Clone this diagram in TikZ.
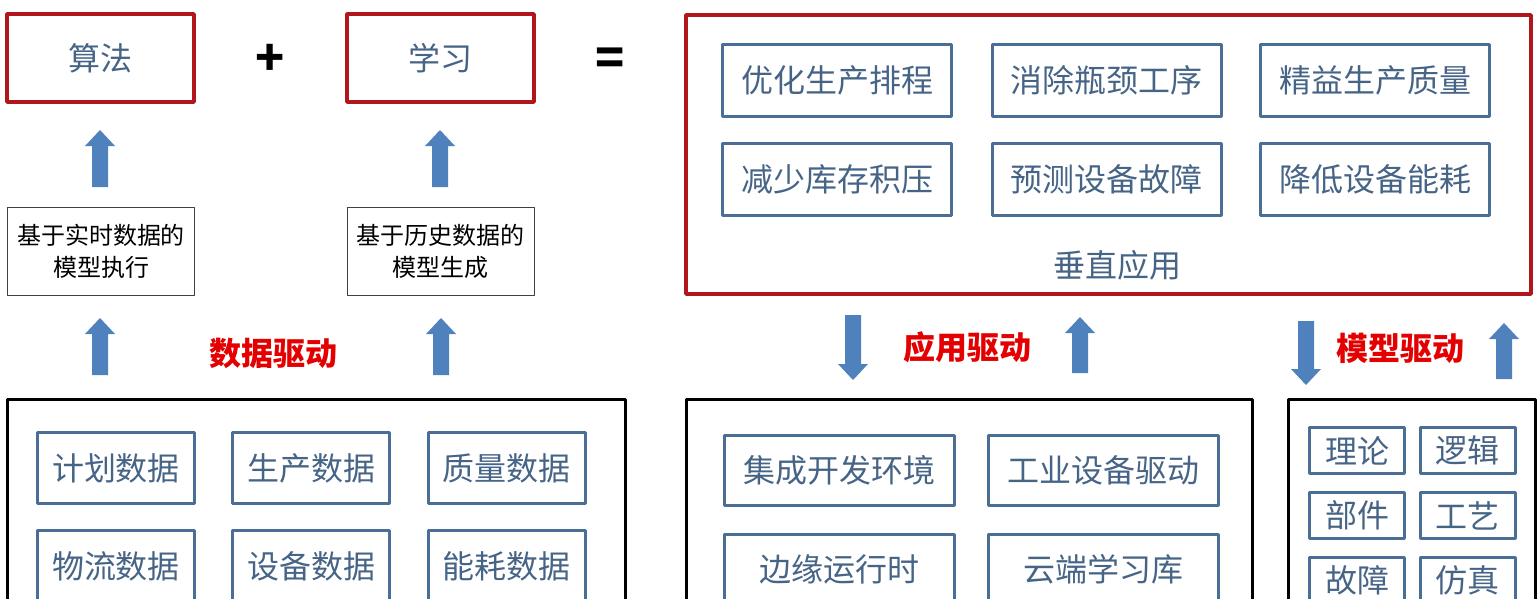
\documentclass[tikz,border=0pt]{standalone}
\usepackage{fontspec}
\setmainfont{Noto Sans CJK SC}
\definecolor{framered}{RGB}{176,22,27}
\definecolor{labelred}{RGB}{228,0,0}
\definecolor{boxblue}{RGB}{74,110,150}
\definecolor{textblue}{RGB}{70,100,134}
\definecolor{arrowblue}{RGB}{79,129,189}
\begin{document}
\begin{tikzpicture}[x=1pt,y=-1pt,line join=round,font=\fontsize{32}{32}\selectfont]
            \tikzset{every node/.style={inner sep=0pt},
                redframe/.style={draw=framered,line width=3.5pt},
                blackframe/.style={draw=black,line width=3pt},
                itembox/.style={draw=boxblue,line width=3pt,text=textblue},
                notebox/.style={draw=black!75,line width=0.8pt,align=center,font=\fontsize{24}{32}\selectfont,minimum width=187pt,minimum height=88pt},
                drive/.style={text=labelred,font=\fontsize{32}{32}\selectfont\bfseries}}
            \useasboundingbox (0,0) rectangle (1540,598);
            \clip (0,0) rectangle (1540,598);
            \node[redframe,text=textblue,minimum width=187pt,minimum height=88pt] (alg) at (100.5,58) {算法};
            \node[redframe,text=textblue,minimum width=187pt,minimum height=88pt] (learn) at (440.5,58) {学习};
            \node[font=\fontsize{48}{48}\selectfont] (plus) at (270,60) {\textbf{+}};
            \node[font=\fontsize{48}{48}\selectfont] (equal) at (610,62) {\textbf{=}};
            \node[notebox] (exec) at (101,251.5) {基于实时数据的\\模型执行};
            \node[notebox] (gen) at (440.5,251.5) {基于历史数据的\\模型生成};
            \node[redframe,minimum width=845pt,minimum height=279pt] (app) at (1108.5,154.5) {};
            \node[text=textblue] (vert) at (1117,265) {垂直应用};
            \foreach \x/\y/\t [count=\i] in {837/80.5/优化生产排程,1106.5/80.5/消除瓶颈工序,1375/80.5/精益生产质量,837/179/减少库存积压,1106.5/179/预测设备故障,1375/179/降低设备能耗}
            \node[itembox,minimum width=229pt,minimum height=72pt] (a\i) at (\x,\y) {\t};
            \node[drive] (ddata) at (273,353) {数据驱动};
            \node[drive] (dapp) at (967,347) {应用驱动};
            \node[drive] (dmodel) at (1400,348) {模型驱动};
            \node[blackframe,minimum width=618pt,minimum height=239pt] (data) at (316.5,519) {};
            \node[blackframe,minimum width=566pt,minimum height=239pt] (dev) at (969.5,519) {};
            \node[blackframe,minimum width=247pt,minimum height=239pt] (model) at (1412,519) {};
            \foreach \x/\y/\t [count=\i] in {116/468/计划数据,311/468/生产数据,506.5/468/质量数据,116/566/物流数据,311/566/设备数据,506.5/566/能耗数据}
            \node[itembox,minimum width=157pt,minimum height=71pt] (d\i) at (\x,\y) {\t};
            \foreach \x/\y/\t [count=\i] in {839.5/470.5/集成开发环境,1103/470.5/工业设备驱动,839.5/569.5/边缘运行时,1103/569.5/云端学习库}
            \node[itembox,minimum width=230pt,minimum height=70pt] (e\i) at (\x,\y) {\t};
            \foreach \x/\y/\t [count=\i] in {1357/450.5/理论,1467.5/450.5/逻辑,1357/515.5/部件,1467.5/515.5/工艺,1357/580.5/故障,1467.5/580.5/仿真}
            \node[itembox,minimum width=95pt,minimum height=46pt] (m\i) at (\x,\y) {\t};
            \foreach \x/\ya/\yb in {100/130/187,440/130/187,100/318/375,441/318/375,853/380/315,1080/317/373,1306/385/321,1504/323/379}
            {
                \pgfmathsetmacro\yh{\ya+16*sign(\yb-\ya)}
                \fill[arrowblue] (\x-8,\yb) -- (\x-8,\yh) -- (\x-15,\yh) -- (\x,\ya) -- (\x+15,\yh) -- (\x+8,\yh) -- (\x+8,\yb) -- cycle;
            }
        \end{tikzpicture}
\end{document}
